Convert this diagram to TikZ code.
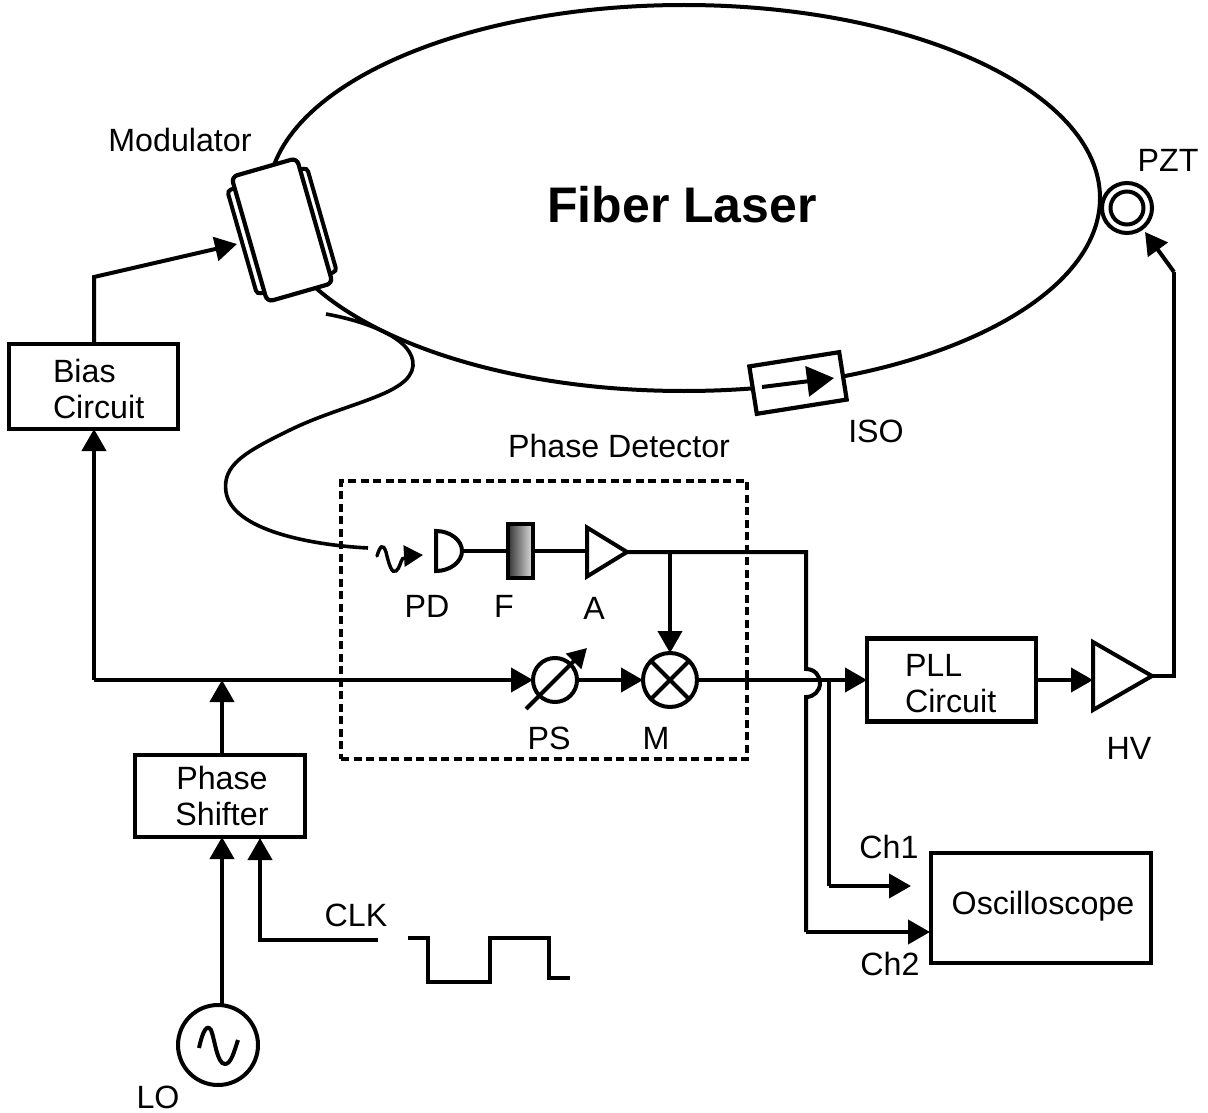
\documentclass[tikz,border=0pt]{standalone}
\usepackage{fontspec}
\setmainfont{Liberation Sans}
\usetikzlibrary{arrows.meta,shapes.geometric}
\tikzset{
  x=1pt,y=-1pt,
  wire/.style={line width=4pt,line cap=butt,line join=miter},
  conn/.style={wire,-{Triangle[length=22pt,width=24pt]}},
  boxnode/.style={draw,line width=4.2pt,inner sep=0pt,outer sep=0pt,fill=white},
  label/.style={inner sep=0pt,outer sep=0pt,font=\fontsize{32.2}{36}\selectfont},
  amp/.style={draw,line width=4pt,fill=white,isosceles triangle,isosceles triangle stretches,inner sep=0pt,outer sep=0pt,anchor=lower side},
  ring/.style={draw,circle,line width=4pt,inner sep=0pt,outer sep=0pt,fill=white},
}
\begin{document}
\begin{tikzpicture}
\useasboundingbox (0,0) rectangle (1208,1113);
% Laser ring
\node[draw,ellipse,line width=4pt,minimum width=832pt,minimum height=386pt,inner sep=0pt,outer sep=0pt] (laser) at (684,198) {};
\node[inner sep=0pt,font=\fontsize{50}{56}\selectfont\bfseries] (title) at (682,205) {Fiber Laser};
% Modulator
\node[boxnode,rounded corners=4pt,line width=4pt,rotate=16,minimum width=83pt,minimum height=108pt] (plate) at (282,231) {};
\node[boxnode,rounded corners=6pt,rotate=16,minimum width=68pt,minimum height=130pt] (modulator) at (282,230) {};
\node[label] (modlabel) at (180,140) {Modulator};
% PZT
\node[ring,minimum size=50pt] (pzt) at (1127,208) {};
\node[ring,minimum size=33pt] (pztin) at (1127,208) {};
\node[label] (pztlabel) at (1168,160) {PZT};
% ISO
\node[boxnode,rotate=9,minimum width=91pt,minimum height=48pt] (iso) at (798,383) {};
\coordinate (isoa) at (762,387);
\coordinate (isob) at (834,378);
\draw[wire,-{Triangle[length=27pt,width=30pt]}] (isoa) -- (isob);
\node[label] (isolabel) at (876,431) {ISO};
% Fibre tail
\coordinate (fa) at (326,314);
\coordinate (fb) at (368,548);
\draw[line width=3.6pt] (fa) .. controls (370,322) and (415,340) .. (413,366)
  .. controls (410,395) and (345,403) .. (290,430)
  .. controls (245,452) and (222,465) .. (226,492)
  .. controls (232,530) and (310,545) .. (fb);
% Phase detector frame
\node[draw,line width=4pt,dash pattern=on 8pt off 4.5pt,inner sep=0pt,minimum width=406pt,minimum height=278pt] (frame) at (544,620) {};
\node[label] (framelabel) at (619,446) {Phase Detector};
% Light input
\coordinate (sa) at (377,556);
\coordinate (sb) at (403,558);
\coordinate (sc) at (423,555);
\draw[line width=3.4pt,line cap=round] (sa) .. controls (380,546) and (383,543) .. (386,552)
  .. controls (389,565) and (392,574) .. (396,571) .. controls (400,568) and (400,562) .. (sb);
\draw[-{Triangle[length=19pt,width=21pt]},line width=3pt] (405,556) -- (sc);
% PD
\node[draw=none,inner sep=0pt,outer sep=0pt,minimum height=40pt,minimum width=26pt] (pd) at (449,551) {};
\draw[line width=4pt] (pd.north west) -- (pd.south west) .. controls (450,571) and (462,562) .. (pd.east) .. controls (462,540) and (450,531) .. (pd.north west) -- cycle;
\node[label] (pdlabel) at (427,606) {PD};
% Filter
\node[draw=black,line width=4.4pt,left color=black!80,right color=black!12,inner sep=0pt,outer sep=0pt,minimum width=25pt,minimum height=54pt] (filter) at (520.5,551) {};
\node[label] (flabel) at (504,606) {F};
% Amp
\node[amp,minimum width=49pt,minimum height=40pt] (amp) at (587,552) {};
\node[label] (alabel) at (594,608) {A};
\draw[wire] (pd.east) -- (filter.west);
\draw[wire] (filter.east) -- (amp.lower side |- filter.east);
% PS
\node[ring,minimum size=44pt] (ps) at (555,680) {};
\coordinate (psa) at (526,709);
\coordinate (psb) at (587,648);
\draw[wire,-{Triangle[length=19pt,width=21pt]}] (psa) -- (psb);
\node[label] (pslabel) at (549,738) {PS};
% Mixer
\node[ring,minimum size=54pt] (mixer) at (670,680) {};
\draw[wire] (mixer.north west) -- (mixer.south east);
\draw[wire] (mixer.north east) -- (mixer.south west);
\node[label] (mlabel) at (656,738) {M};
% Boxes
\node[boxnode,minimum width=169pt,minimum height=85pt] (bias) at (93.5,386.5) {};
\node[label,align=left,anchor=west] (biastext) at (53,388.5) {Bias\\Circuit};
\node[boxnode,minimum width=170pt,minimum height=82pt] (shifter) at (220,796) {};
\node[label,align=center] (shiftertext) at (222,796) {Phase\\Shifter};
\node[boxnode,minimum width=169pt,minimum height=83pt] (pll) at (951.5,680) {};
\node[label,align=left,anchor=west] (plltext) at (905,684) {PLL\\Circuit};
\node[boxnode,minimum width=220pt,minimum height=110pt] (scope) at (1041,908) {};
\node[label] (scopetext) at (1043,906) {Oscilloscope};
% HV
\node[amp,minimum width=68pt,minimum height=59pt] (hv) at (1093,676) {};
\node[label] (hvlabel) at (1129,748) {HV};
% LO
\node[ring,minimum size=80pt] (lo) at (218,1045) {};
\draw[line width=4pt] (199,1048) .. controls (203,1030) and (207,1024) .. (211,1030)
  .. controls (215,1040) and (217,1064) .. (225,1064) .. controls (231,1064) and (234,1052) .. (238,1040);
\node[label] (lolabel) at (158,1097) {LO};
% Labels
\node[label] (ch1) at (889,847) {Ch1};
\node[label] (ch2) at (890,964) {Ch2};
\node[label] (clk) at (356,915) {CLK};
% Coordinates
\coordinate (j1) at (94,680);
\coordinate (j2) at (222,680);
\coordinate (bend1) at (94,277);
\coordinate (modin) at (237,244);
\coordinate (top) at (806,552);
\coordinate (h1) at (806,669);
\coordinate (h2) at (806,697);
\coordinate (c2) at (806,932);
\coordinate (c2t) at (930,932);
\coordinate (j3) at (829,680);
\coordinate (c1) at (829,886);
\coordinate (c1t) at (911,886);
\coordinate (bend2) at (1174,676);
\coordinate (bend3) at (1174,272);
\coordinate (pzttip) at (1145,232);
\coordinate (clka) at (378,940);
\coordinate (clkb) at (260,940);
\coordinate (clkt) at (260,838);
% Connectors
\draw[conn] (bias.north -| j1) -- (bend1) -- (modin);
\draw[conn] (j1) -- (bias.south -| j1);
\draw[conn] (j1) -- (ps.west);
\draw[conn] (shifter.north -| j2) -- (j2);
\draw[conn] (lo.north -| j2) -- (shifter.south -| j2);
\draw[conn] (clka) -- (clkb) -- (clkt);
\draw[conn] (ps.east) -- (mixer.west);
\draw[conn] (top -| mixer) -- (mixer.north);
\draw[wire] (amp.apex) -- (top) -- (h1) .. controls (815,669) and (820,676) .. (820,683) .. controls (820,691) and (814,697) .. (h2) -- (c2);
\draw[conn] (c2) -- (c2t);
\draw[conn] (mixer.east) -- (pll.west);
\draw[wire] (j3) -- (c1);
\draw[conn] (c1) -- (c1t);
\draw[conn] (pll.east) -- (hv.lower side |- pll.east);
\draw[wire] (hv.apex) -- (bend2) -- (bend3);
\draw[conn] (bend3) -- (pzttip);
% CLK waveform
\coordinate (w0) at (408,938);
\coordinate (w1) at (428,938);
\coordinate (w2) at (428,982);
\coordinate (w3) at (490,982);
\coordinate (w4) at (490,938);
\coordinate (w5) at (549,938);
\coordinate (w6) at (549,978);
\coordinate (w7) at (570,978);
\draw[wire] (w0) -- (w1) -- (w2) -- (w3) -- (w4) -- (w5) -- (w6) -- (w7);
\end{tikzpicture}
\end{document}
